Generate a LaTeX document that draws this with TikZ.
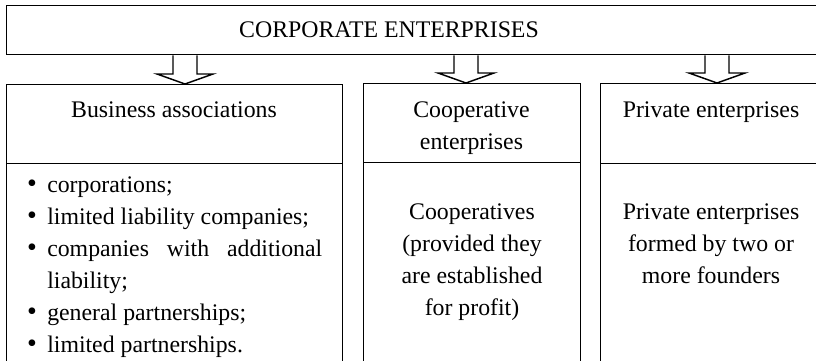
\documentclass[tikz,border=0pt]{standalone}
\usepackage{fontspec}
\setmainfont{Liberation Serif}
\newfontfamily\tnr{Liberation Serif}
\usetikzlibrary{calc}
\begin{document}
\begin{tikzpicture}[x=0.75pt,y=-0.75pt,
  box/.style={draw, line width=1.1pt, rectangle, inner sep=0pt, anchor=north west},
  txt/.style={font=\tnr\fontsize{17.85}{23.85}\selectfont, inner sep=0pt, anchor=base},
  bul/.style={font=\tnr\fontsize{21}{23.85}\selectfont, inner sep=0pt, anchor=base},
  blockarrow/.style={draw, line width=1.1pt, line join=miter,
    to path={($(\tikztostart)+(-12,0)$) -- ($(\tikztotarget)+(-12,-10)$)
      -- ($(\tikztotarget)+(-28,-10)$) -- (\tikztotarget)
      -- ($(\tikztotarget)+(28,-10)$) -- ($(\tikztotarget)+(12,-10)$)
      -- ($(\tikztostart)+(12,0)$)}}]
\useasboundingbox (0,0) rectangle (816,360);
\clip (0,0) rectangle (816,360);
% boxes
\node[box, minimum width=824*0.75pt, minimum height=49*0.75pt] (top) at (6,5) {};
\node[box, minimum width=336*0.75pt, minimum height=79*0.75pt] (ba) at (6,84) {};
\node[box, minimum width=336*0.75pt, minimum height=220*0.75pt] (bab) at (6,163) {};
\node[box, minimum width=217*0.75pt, minimum height=79*0.75pt] (co) at (363,83) {};
\node[box, minimum width=217*0.75pt, minimum height=220*0.75pt] (cob) at (363,162) {};
\node[box, minimum width=230*0.75pt, minimum height=80*0.75pt] (pe) at (600,83) {};
\node[box, minimum width=230*0.75pt, minimum height=220*0.75pt] (peb) at (600,163) {};
% arrows
\coordinate (x1) at (185,0);
\coordinate (x2) at (466,0);
\coordinate (x3) at (717,0);
\draw[blockarrow] (top.south -| x1) to (ba.north -| x1);
\draw[blockarrow] (top.south -| x2) to (co.north -| x2);
\draw[blockarrow] (top.south -| x3) to (pe.north -| x3);
% texts
\node[txt] (t0) at (389,38) {CORPORATE ENTERPRISES};
\node[txt] (t1) at (174,117) {Business associations};
\node[txt] (t2a) at (471.5,117) {Cooperative};
\node[txt] (t2b) at (471.5,149) {enterprises};
\node[txt] (t3) at (711,117) {Private enterprises};
% bullet list
\foreach \y/\t/\b in {192/corporations;/1, 224/limited liability companies;/1,
   256/{\makebox[206.25pt][s]{companies with additional}}/1, 288/liability;/0,
   320/general partnerships;/1, 352/limited partnerships./1}{
  \ifnum\b=1 \node[bul] at (32,\y) {\textbullet}; \fi
  \node[txt, anchor=base west] at (47,\y) {\t};
}
% cooperatives
\node[txt] (c1) at (472,219) {Cooperatives};
\node[txt] (c2) at (472,251) {(provided they};
\node[txt] (c3) at (472,283) {are established};
\node[txt] (c4) at (472,315) {for profit)};
% private
\node[txt] (p1) at (711,219) {Private enterprises};
\node[txt] (p2) at (711,251) {formed by two or};
\node[txt] (p3) at (711,283) {more founders};
\end{tikzpicture}
\end{document}
